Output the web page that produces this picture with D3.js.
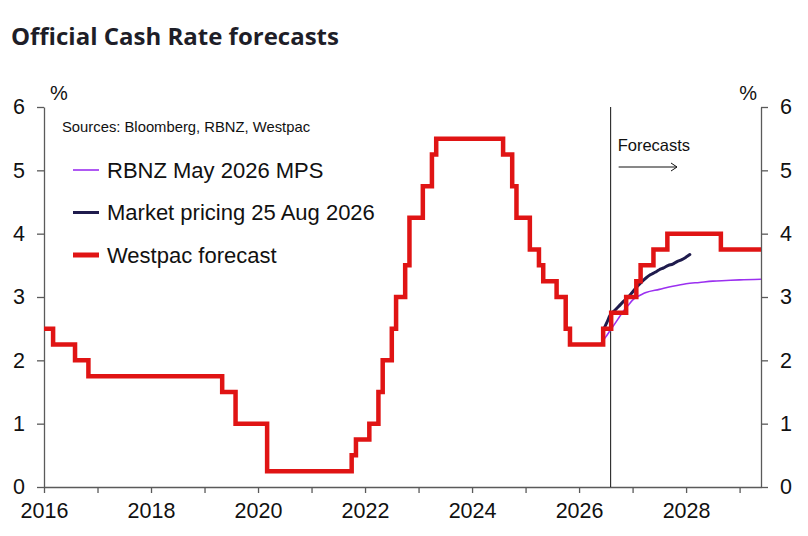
<!DOCTYPE html>
<html>
<head>
<meta charset="utf-8">
<script src="https://cdn.jsdelivr.net/npm/d3@7"></script>
<style>
  body { margin: 0; background: #fff; }
  svg { display: block; }
</style>
</head>
<body>
<div id="chart"></div>
<script>
// Westpac OCR path (history + forecast), step changes in decimal years
const westpacDates = [
  2016.0, 2016.17, 2016.58, 2016.83, 2019.33, 2019.58, 2020.17, 2021.75,
  2021.83, 2022.08, 2022.25, 2022.33, 2022.5, 2022.58, 2022.75, 2022.83,
  2023.08, 2023.25, 2023.33, 2024.58, 2024.75, 2024.83, 2025.08, 2025.25,
  2025.33, 2025.58, 2025.75, 2025.83,
  2026.45, 2026.6, 2026.88, 2027.07, 2027.15, 2027.39, 2027.65, 2028.65, 2029.4
];
const westpacRates = [
  2.5, 2.25, 2.0, 1.75, 1.5, 1.0, 0.25, 0.5,
  0.75, 1.0, 1.5, 2.0, 2.5, 3.0, 3.5, 4.25,
  4.75, 5.25, 5.5, 5.25, 4.75, 4.25, 3.75, 3.5,
  3.25, 3.0, 2.5, 2.25,
  2.5, 2.75, 3.0, 3.25, 3.5, 3.75, 4.0, 3.75, 3.75
];

// Market pricing 25 Aug 2026
const marketDates = [
  2026.45, 2026.52, 2026.58, 2026.67, 2026.75, 2026.83, 2026.92, 2027.0,
  2027.08, 2027.17, 2027.25, 2027.33, 2027.42, 2027.5, 2027.58, 2027.67,
  2027.75, 2027.83, 2027.92, 2028.0, 2028.07
];
const marketRates = [
  2.47, 2.6, 2.71, 2.79, 2.86, 2.93, 3.0, 3.08,
  3.16, 3.24, 3.3, 3.35, 3.39, 3.43, 3.46, 3.5,
  3.52, 3.56, 3.59, 3.63, 3.67
];

// RBNZ May 2026 MPS track
const rbnzDates = [
  2026.39, 2026.5, 2026.58, 2026.67, 2026.75, 2026.83, 2026.92, 2027.0,
  2027.08, 2027.17, 2027.25, 2027.5, 2027.75, 2028.0, 2028.25, 2028.5,
  2028.75, 2029.0, 2029.4
];
const rbnzRates = [
  2.25, 2.37, 2.47, 2.58, 2.68, 2.78, 2.87, 2.95,
  3.0, 3.04, 3.07, 3.12, 3.17, 3.21, 3.23, 3.25,
  3.26, 3.27, 3.28
];

const yearTicks = d3.range(2016, 2030);
const rateTicks = [0, 1, 2, 3, 4, 5, 6];
const forecastStart = 2026.59;

const legendItems = [
  { label: "RBNZ May 2026 MPS", color: "#9b30f0", width: 1.6 },
  { label: "Market pricing 25 Aug 2026", color: "#1f1b4d", width: 3 },
  { label: "Westpac forecast", color: "#e01414", width: 5 }
];

const width = 808;
const height = 536;
const margin = { top: 107, right: 47, bottom: 49, left: 44 };

const svg = d3.select("#chart")
  .append("svg")
  .attr("width", width)
  .attr("height", height);

const x = d3.scaleLinear()
  .domain([2016, 2029.4])
  .range([margin.left, width - margin.right]);

const y = d3.scaleLinear()
  .domain([0, 6])
  .range([height - margin.bottom, margin.top]);

const zip = (xs, ys) => xs.map((d, i) => [d, ys[i]]);

// title
svg.append("text")
  .attr("x", 11)
  .attr("y", 45)
  .attr("font-family", "'Open Sans', 'Noto Sans', sans-serif")
  .attr("font-weight", 700)
  .attr("font-size", 24)
  .attr("fill", "#1e1e28")
  .text("Official Cash Rate forecasts");

// axes
const axisFont = "'Liberation Sans', Arial, sans-serif";

const xAxis = svg.append("g")
  .attr("transform", `translate(0,${y(0)})`)
  .call(d3.axisBottom(x)
    .tickValues(yearTicks)
    .tickSize(6)
    .tickSizeOuter(0)
    .tickPadding(10)
    .tickFormat(d => (d % 2 === 0 ? d : "")));

const yLeft = svg.append("g")
  .attr("transform", `translate(${x.range()[0]},0)`)
  .call(d3.axisLeft(y).tickValues(rateTicks).tickFormat(d3.format("d"))
    .tickSize(7).tickSizeOuter(0).tickPadding(12));

const yRight = svg.append("g")
  .attr("transform", `translate(${x.range()[1]},0)`)
  .call(d3.axisRight(y).tickValues(rateTicks).tickFormat(d3.format("d"))
    .tickSize(7).tickSizeOuter(0).tickPadding(12));

[xAxis, yLeft, yRight].forEach(g => {
  g.select(".domain").attr("stroke", "#5a5a5a").attr("stroke-width", 1.3);
  g.selectAll(".tick line").attr("stroke", "#5a5a5a").attr("stroke-width", 1.3);
  g.selectAll(".tick text")
    .attr("font-family", axisFont)
    .attr("font-size", 21.5)
    .attr("fill", "#111");
});

// % labels
svg.append("text")
  .attr("x", 50).attr("y", 100)
  .attr("font-family", axisFont).attr("font-size", 20).attr("fill", "#111")
  .text("%");
svg.append("text")
  .attr("x", 757).attr("y", 100)
  .attr("text-anchor", "end")
  .attr("font-family", axisFont).attr("font-size", 20).attr("fill", "#111")
  .text("%");

// forecast divider
svg.append("line")
  .attr("x1", x(forecastStart)).attr("x2", x(forecastStart))
  .attr("y1", y(6)).attr("y2", y(0))
  .attr("stroke", "#111").attr("stroke-width", 1);

svg.append("text")
  .attr("x", x(forecastStart) + 7).attr("y", 151)
  .attr("font-family", axisFont).attr("font-size", 16.5).attr("fill", "#111")
  .text("Forecasts");

svg.append("path")
  .attr("d", `M${x(forecastStart) + 8},167 H677 M671,163 L677,167 L671,171`)
  .attr("fill", "none")
  .attr("stroke", "#111")
  .attr("stroke-width", 1);

// series
const line = d3.line().x(d => x(d[0])).y(d => y(d[1]));

svg.append("path")
  .datum(zip(rbnzDates, rbnzRates))
  .attr("d", line.curve(d3.curveMonotoneX))
  .attr("fill", "none")
  .attr("stroke", legendItems[0].color)
  .attr("stroke-width", legendItems[0].width);

svg.append("path")
  .datum(zip(marketDates, marketRates))
  .attr("d", line.curve(d3.curveMonotoneX))
  .attr("fill", "none")
  .attr("stroke", legendItems[1].color)
  .attr("stroke-width", legendItems[1].width)
  .attr("stroke-linecap", "round");

svg.append("path")
  .datum(zip(westpacDates, westpacRates))
  .attr("d", line.curve(d3.curveStepAfter))
  .attr("fill", "none")
  .attr("stroke", legendItems[2].color)
  .attr("stroke-width", 4.5)
  .attr("stroke-linejoin", "miter");

// sources
svg.append("text")
  .attr("x", 62).attr("y", 132)
  .attr("font-family", axisFont).attr("font-size", 14.8).attr("fill", "#111")
  .text("Sources: Bloomberg, RBNZ, Westpac");

// legend
const legend = svg.append("g")
  .selectAll("g")
  .data(legendItems)
  .join("g")
  .attr("transform", (d, i) => `translate(73,${170 + i * 42.5})`);

legend.append("line")
  .attr("x1", 0).attr("x2", 26)
  .attr("stroke", d => d.color)
  .attr("stroke-width", d => d.width);

legend.append("text")
  .attr("x", 34).attr("y", 7.5)
  .attr("font-family", axisFont).attr("font-size", 22).attr("fill", "#111")
  .text(d => d.label);
</script>
</body>
</html>
